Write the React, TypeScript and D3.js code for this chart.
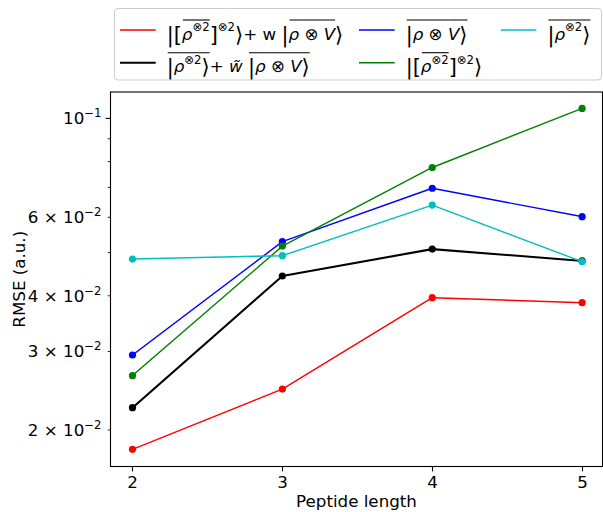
import React, { useEffect, useRef } from 'react';
import * as d3 from 'd3';

// ---- data ----
const peptideLengths = [2, 3, 4, 5];
const rmseRed = [0.0181, 0.0247, 0.0396, 0.0386];
const rmseBlack = [0.02244, 0.0443, 0.0509, 0.0479];
const rmseBlue = [0.02946, 0.0529, 0.0697, 0.0602];
const rmseGreen = [0.02648, 0.0517, 0.0776, 0.1053];
const rmseCyan = [0.04836, 0.0492, 0.0639, 0.0477];

const xTickValues = [2, 3, 4, 5];
const yMajorTicks = [0.1];
const yMinorTicks = [0.02, 0.03, 0.04, 0.05, 0.06, 0.07, 0.08, 0.09];
const yLabeledTicks = [
  { v: 0.02, m: '2', e: '2' },
  { v: 0.03, m: '3', e: '2' },
  { v: 0.04, m: '4', e: '2' },
  { v: 0.06, m: '6', e: '2' },
  { v: 0.1, m: '', e: '1' },
];

type Seg = { t: string; it?: boolean; sup?: boolean; del?: boolean };
type Item = Seg | { over: Seg[] };

const labelRed: Item[] = [
  { t: '|', del: true }, { t: '[', del: true },
  { over: [{ t: 'ρ', it: true }, { t: '⊗2', sup: true }] },
  { t: ']', del: true },
  { t: '⊗2', sup: true },
  { t: '⟩', del: true }, { t: '+ w ' }, { t: '|', del: true },
  { over: [{ t: 'ρ', it: true }, { t: ' ⊗ ' }, { t: 'V', it: true }] },
  { t: '⟩', del: true },
];
const labelBlack: Item[] = [
  { over: [{ t: '|', del: true }, { t: 'ρ', it: true }, { t: '⊗2', sup: true }, { t: '⟩', del: true }] },
  { t: '+ ' },
  { t: 'w̃', it: true },
  { t: ' ' },
  { over: [{ t: '|', del: true }, { t: 'ρ', it: true }, { t: ' ⊗ ' }, { t: 'V', it: true }, { t: '⟩', del: true }] },
];
const labelBlue: Item[] = [
  { over: [{ t: '|', del: true }, { t: 'ρ', it: true }, { t: ' ⊗ ' }, { t: 'V', it: true }, { t: '⟩', del: true }] },
];
const labelGreen: Item[] = [
  { t: '|', del: true }, { t: '[', del: true },
  { over: [{ t: 'ρ', it: true }, { t: '⊗2', sup: true }] },
  { t: ']', del: true },
  { t: '⊗2', sup: true },
  { t: '⟩', del: true },
];
const labelCyan: Item[] = [
  { over: [{ t: '|', del: true }, { t: 'ρ', it: true }, { t: '⊗2', sup: true }, { t: '⟩', del: true }] },
];

const series = [
  { values: rmseRed, color: '#ff0000', width: 1.4, label: labelRed, col: 0, row: 0 },
  { values: rmseBlack, color: '#000000', width: 2.1, label: labelBlack, col: 0, row: 1 },
  { values: rmseBlue, color: '#0000ff', width: 1.4, label: labelBlue, col: 1, row: 0 },
  { values: rmseGreen, color: '#008000', width: 1.4, label: labelGreen, col: 1, row: 1 },
  { values: rmseCyan, color: '#00bfbf', width: 1.4, label: labelCyan, col: 2, row: 0 },
];

const W = 603;
const H = 512;
const FONT = 'DejaVu Sans, Liberation Sans, sans-serif';
const FS = 16.7;

export default function App() {
  const ref = useRef<SVGSVGElement>(null);

  useEffect(() => {
    const svg = d3.select(ref.current);
    svg.selectAll('*').remove();

    const left = 110.5, right = 602.5, top = 92, bottom = 466.5;
    const x = d3.scaleLinear().domain([1.85, 5.15]).range([110, 604.6]);
    const y = d3.scaleLog().domain([0.01656, 0.1146]).range([bottom, top]);

    const root = svg.append('g').attr('font-family', FONT);

    // lines & markers
    const line = d3.line<number>()
      .x((_, i) => x(peptideLengths[i]))
      .y((d) => y(d));
    series.forEach((s) => {
      root.append('path')
        .attr('d', line(s.values) as string)
        .attr('fill', 'none')
        .attr('stroke', s.color)
        .attr('stroke-width', s.width)
        .attr('stroke-linejoin', 'round')
        .attr('stroke-linecap', 'square');
      root.selectAll(null)
        .data(s.values)
        .enter()
        .append('circle')
        .attr('cx', (_, i) => x(peptideLengths[i]))
        .attr('cy', (d) => y(d))
        .attr('r', 3.6)
        .attr('fill', s.color);
    });

    // spines
    root.append('rect')
      .attr('x', left).attr('y', top)
      .attr('width', right - left).attr('height', bottom - top)
      .attr('fill', 'none').attr('stroke', '#000').attr('stroke-width', 1.1);

    // x ticks
    xTickValues.forEach((v) => {
      const px = Math.round(x(v)) + 0.5;
      root.append('line').attr('x1', px).attr('x2', px).attr('y1', bottom).attr('y2', bottom + 4.9)
        .attr('stroke', '#000').attr('stroke-width', 1.1);
      root.append('text').attr('x', px).attr('y', 487.5).attr('text-anchor', 'middle')
        .attr('font-size', FS).attr('fill', '#000').text(String(v));
    });

    // y ticks
    yMinorTicks.forEach((v) => {
      const py = y(v);
      root.append('line').attr('x1', left - 2.8).attr('x2', left).attr('y1', py).attr('y2', py)
        .attr('stroke', '#000').attr('stroke-width', 0.85);
    });
    yMajorTicks.forEach((v) => {
      const py = y(v);
      root.append('line').attr('x1', left - 4.9).attr('x2', left).attr('y1', py).attr('y2', py)
        .attr('stroke', '#000').attr('stroke-width', 1.1);
    });
    yLabeledTicks.forEach((tk) => {
      const py = y(tk.v);
      const t = root.append('text').attr('x', 101.5).attr('y', py + 5.8)
        .attr('text-anchor', 'end').attr('font-size', FS).attr('fill', '#000');
      t.append('tspan').text(tk.m ? `${tk.m} × 10` : '10');
      t.append('tspan').attr('font-size', FS * 0.7).attr('dy', -6.8).text(`−${tk.e}`);
    });

    // axis labels
    root.append('text').attr('x', (left + right) / 2).attr('y', 506.5).attr('text-anchor', 'middle')
      .attr('font-size', FS).attr('fill', '#000').text('Peptide length');
    root.append('text')
      .attr('transform', `translate(24.5,${(top + bottom) / 2}) rotate(-90)`)
      .attr('text-anchor', 'middle').attr('font-size', FS).attr('fill', '#000').text('RMSE (a.u.)');

    // legend
    const lg = root.append('g');
    lg.append('rect').attr('x', 114.5).attr('y', 8.5).attr('width', 487).attr('height', 71.5)
      .attr('rx', 3.5).attr('fill', '#fff').attr('fill-opacity', 0.8)
      .attr('stroke', '#cccccc').attr('stroke-width', 1);
    const colX = [120, 359, 500.7];
    const rowY = [30, 62.7];

    const drawMath = (items: Item[], x0: number, baseline: number, color: string) => {
      let cx = x0;
      const drawSeg = (s: Seg) => {
        const fs = s.sup ? FS * 0.7 : s.del ? FS * 1.25 : FS;
        const dy = s.sup ? -FS * 0.5 : s.del ? 2.2 : 0;
        const t = lg.append('text')
          .attr('x', cx).attr('y', baseline + dy)
          .attr('font-size', fs)
          .attr('font-style', s.it ? 'italic' : 'normal')
          .attr('fill', color)
          .style('white-space', 'pre')
          .text(s.t);
        cx += (t.node() as SVGTextElement).getComputedTextLength();
      };
      items.forEach((it) => {
        if ('over' in it) {
          const xs = cx;
          it.over.forEach(drawSeg);
          lg.append('line').attr('x1', xs + 1).attr('x2', cx).attr('y1', baseline - 19.5).attr('y2', baseline - 19.5)
            .attr('stroke', color).attr('stroke-width', 1.1);
        } else {
          drawSeg(it);
        }
      });
    };

    series.forEach((s) => {
      const hx = colX[s.col];
      const hy = rowY[s.row];
      lg.append('line').attr('x1', hx).attr('x2', hx + 35.7).attr('y1', hy).attr('y2', hy)
        .attr('stroke', s.color).attr('stroke-width', s.width);
      drawMath(s.label, hx + 46.7, hy + 9.5, '#000');
    });
  }, []);

  return (
    <svg ref={ref} width={W} height={H} style={{ position: 'absolute', left: 0, top: 0, background: '#fff' }} />
  );
}
